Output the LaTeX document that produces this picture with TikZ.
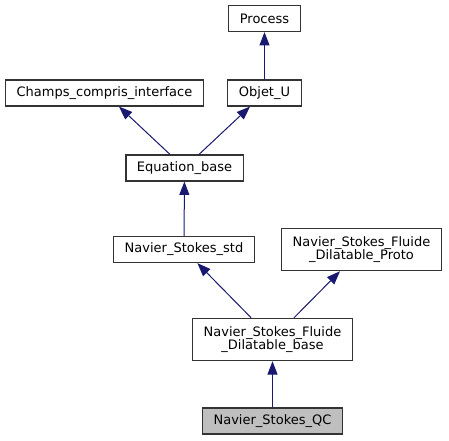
\documentclass[tikz,border=0pt]{standalone}
\usepackage{fontspec}
\setmainfont{DejaVu Sans}
\usetikzlibrary{arrows.meta}
\definecolor{edgeblue}{RGB}{25,25,112}
\definecolor{current}{RGB}{191,191,191}

\begin{document}
\begin{tikzpicture}[x=0.75pt,y=-0.75pt,
    cls/.style={draw=black!80,line width=0.9pt,fill=white,align=center,
      font=\fontsize{9.75pt}{10pt}\selectfont,inner xsep=8.3pt,inner ysep=2.5pt,
      minimum height=19.5pt},
    cls2/.style={cls,inner ysep=6pt},
    inh/.style={draw=edgeblue,line width=0.75pt,-{Triangle[length=10pt,width=7.5pt]}}]
           \useasboundingbox (0,0) rectangle (449,440);
           \node[cls] (P) at (264.5,18.5) {Process};
           \node[cls] (CCI) at (104.5,93) {Champs\_compris\_interface};
           \node[cls] (OU) at (264.5,93) {Objet\_U};
           \node[cls] (EB) at (184.5,168) {Equation\_base};
           \node[cls] (NSS) at (184,249.5) {Navier\_Stokes\_std};
           \node[cls2] (NSP) at (361.5,249.5) {Navier\_Stokes\_Fluide\\\_Dilatable\_Proto};
           \node[cls2] (NSB) at (272.5,339.5) {Navier\_Stokes\_Fluide\\\_Dilatable\_base};
           \node[cls,fill=current] (QC) at (272.5,421) {Navier\_Stokes\_QC};

           \draw[inh] (OU) -- (P);
           \draw[inh] (EB) -- (CCI);
           \draw[inh] (EB) -- (OU);
           \draw[inh] (NSS) -- (EB);
           \draw[inh] (NSB) -- (NSS);
           \draw[inh] (NSB) -- (NSP);
           \draw[inh] (QC) -- (NSB);
         \end{tikzpicture}
\end{document}
